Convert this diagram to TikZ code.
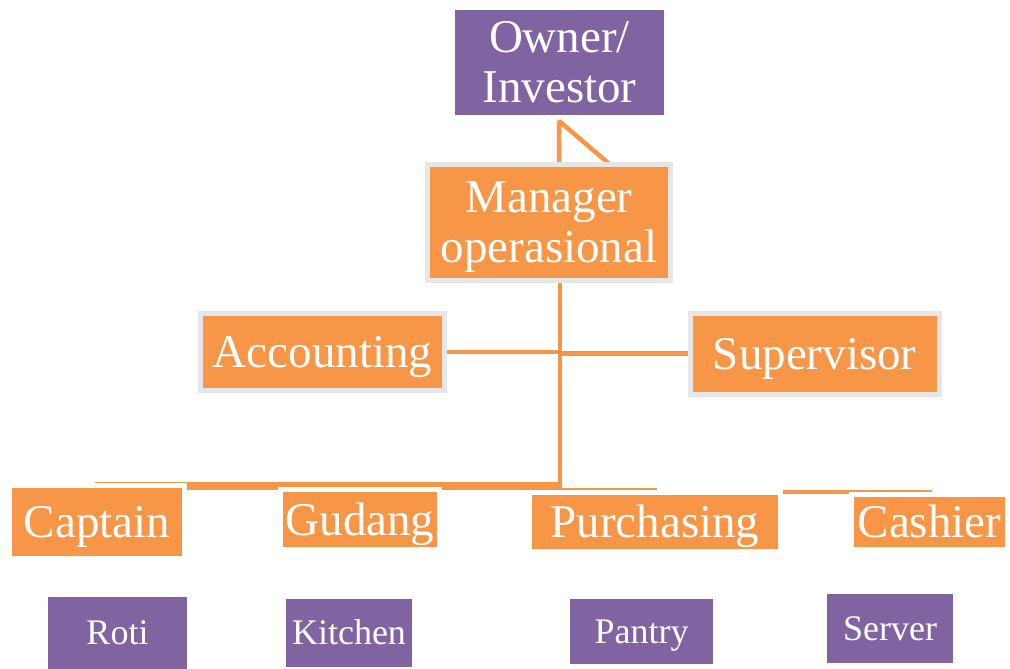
\documentclass[tikz,border=0pt]{standalone}
\usepackage{fontspec}
\setmainfont{Liberation Serif}
\definecolor{org}{HTML}{F79646}
\definecolor{pur}{HTML}{8064A2}
\definecolor{gbd}{HTML}{E6E6E6}
\begin{document}
\begin{tikzpicture}[x=1pt,y=-1pt,
  base/.style={inner sep=0pt, outer sep=0pt, text=white, align=center},
  big/.style={base, font=\fontsize{47}{50}\selectfont},
  small/.style={base, font=\fontsize{36}{40}\selectfont},
  capc/.style={text height=31pt, text depth=0pt},
  capcs/.style={text height=23.8pt, text depth=0pt},
  obox/.style={big, fill=org},
  gbox/.style={obox, draw=gbd, line width=5pt},
  wbox/.style={obox, capc, draw=white, line width=5pt},
  pbox/.style={small, capcs, fill=pur},
  conn/.style={draw=org, line width=4.5pt}]
\useasboundingbox (0,0) rectangle (1010,669);
\fill[white] (0,0) rectangle (1010,669);
% coordinates for free line ends
\coordinate (j) at (560,486);
\coordinate (bl) at (95,486);
\coordinate (k0) at (560,489);
\coordinate (k1) at (657,489);
\coordinate (c1) at (783,492);
\coordinate (c2) at (932,492);
% phantom nodes for the connector anchors
\path node[big, minimum width=209pt, minimum height=105pt] (own) at (559.5,62.5) {};
\path node[big, minimum width=243pt, minimum height=115.5pt] (mgr) at (549,222.25) {};
\path node[big, minimum width=244pt, minimum height=77pt] (acc) at (322.5,352) {};
\path node[big, minimum width=248.5pt, minimum height=80.5pt] (sup) at (814.75,353.75) {};
% connectors
\draw[conn, line join=bevel] ([xshift=10pt]mgr.north) -- ([xshift=-0.5pt,yshift=-6pt]own.south) -- ([xshift=61pt]mgr.north);
\draw[conn, line width=4pt] ([xshift=11pt]mgr.south) -- ([yshift=-4pt]j);
\draw[conn, line width=4pt] (acc.east) -- (acc.east -| j);
\draw[conn, line width=5pt] (sup.west) -- (sup.west -| j);
\draw[conn, line width=8pt] (bl) -- (j);
\draw[conn, line width=3pt] (k0) -- (k1);
\draw[conn, line width=4pt] (c1) -- (c2);
% boxes
\node[big, fill=pur, minimum width=209pt, minimum height=105pt] (own) at (559.5,62.5) {Owner/\\Investor};
\node[gbox, text depth=0pt, minimum width=243pt, minimum height=115.5pt] (mgr) at (549,222.25) {Manager\\operasional};
\node[gbox, capc, minimum width=244pt, minimum height=77pt] (acc) at (322.5,352) {Accounting};
\node[gbox, capc, minimum width=248.5pt, minimum height=80.5pt] (sup) at (814.75,353.75) {Supervisor};
\node[wbox, minimum width=175pt, minimum height=73pt] (cap) at (97,522) {Captain};
\node[wbox, minimum width=159pt, minimum height=60pt] (gud) at (360,519.5) {Gudang};
\node[wbox, minimum width=251pt, minimum height=59pt] (pch) at (655,522) {Purchasing};
\node[wbox, minimum width=156pt, minimum height=55pt] (csh) at (929.5,522) {Cashier};
\node[pbox, minimum width=139pt, minimum height=72pt] (rot) at (117.5,633) {Roti};
\node[pbox, minimum width=126pt, minimum height=68pt] (kit) at (349,633) {Kitchen};
\node[pbox, minimum width=143pt, minimum height=65pt] (pan) at (641.5,631.5) {Pantry};
\node[pbox, minimum width=126pt, minimum height=69pt] (srv) at (890,628.5) {Server};
\end{tikzpicture}
\end{document}
